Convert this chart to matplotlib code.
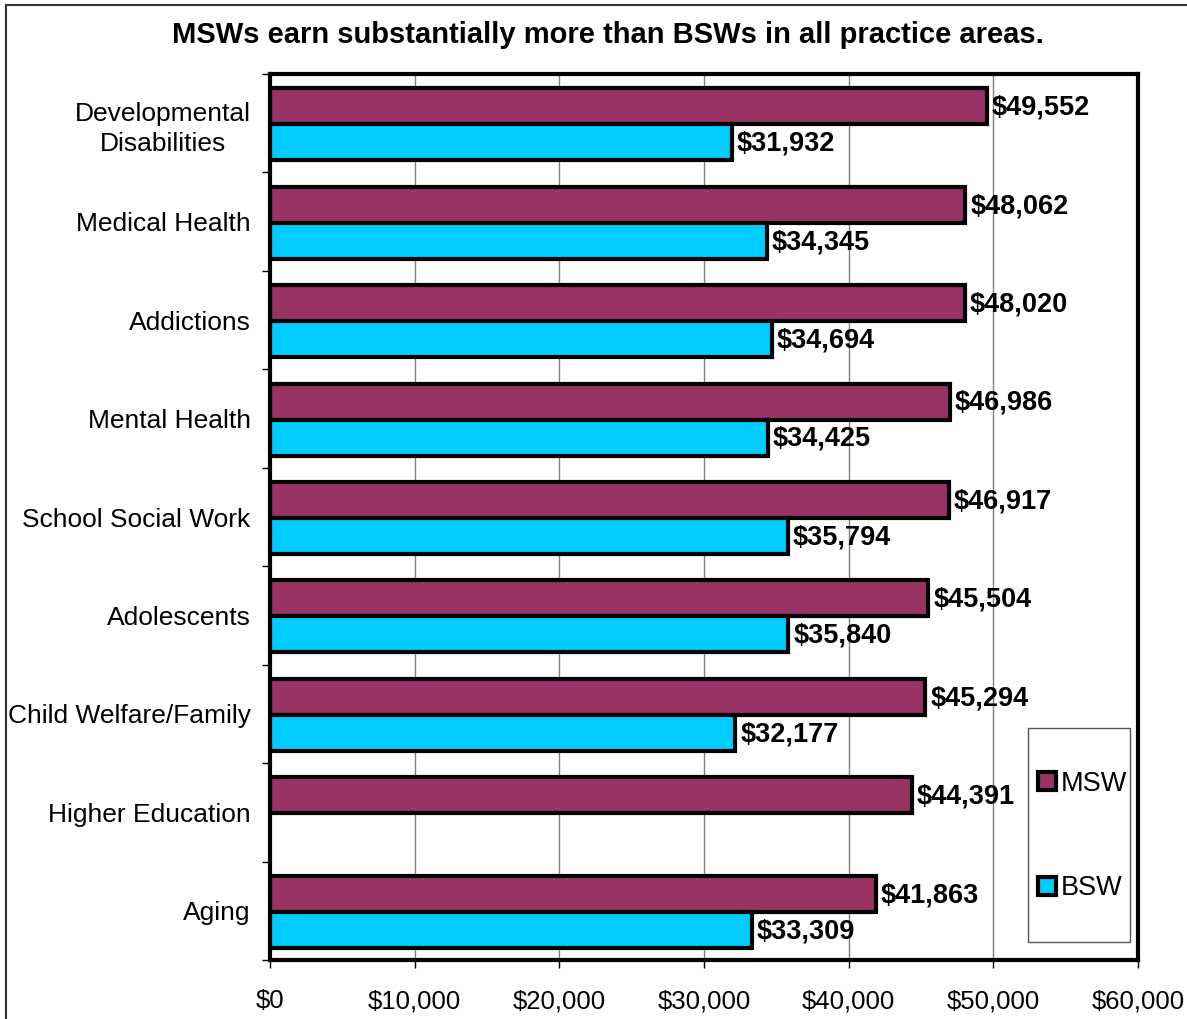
import numpy as np
import matplotlib
matplotlib.use("Agg")
import matplotlib.pyplot as plt
from matplotlib.lines import Line2D
from matplotlib.patches import Rectangle

plt.rcParams['font.family'] = ['Liberation Sans', 'DejaVu Sans']

categories = ["Developmental\nDisabilities", "Medical Health", "Addictions", "Mental Health",
              "School Social Work", "Adolescents", "Child Welfare/Family", "Higher Education", "Aging"]
msw = [49552, 48062, 48020, 46986, 46917, 45504, 45294, 44391, 41863]
bsw = [31932, 34345, 34694, 34425, 35794, 35840, 32177, np.nan, 33309]
xticks = [0, 10000, 20000, 30000, 40000, 50000, 60000]

MSW_COLOR = '#993366'
BSW_COLOR = '#00CCFF'

W, H = 1187, 1019
fig = plt.figure(figsize=(W / 100, H / 100), dpi=100)
ax = fig.add_axes([270 / W, 1 - 960 / H, (1138 - 270) / W, (960 - 74) / H])

y = np.arange(len(categories))
h = 0.366
bars_m = ax.barh(y - h / 2 + 0.01, msw, height=h, color=MSW_COLOR, edgecolor='black', linewidth=3, zorder=3)
bars_b = ax.barh(y + h / 2 + 0.01, bsw, height=h, color=BSW_COLOR, edgecolor='black', linewidth=3, zorder=3)

for bars, vals in [(bars_m, msw), (bars_b, bsw)]:
    for bar, v in zip(bars, vals):
        if np.isnan(v):
            continue
        ax.annotate(f"${v:,.0f}", (v, bar.get_y() + bar.get_height() / 2),
                    xytext=(3.5, -1), textcoords='offset points',
                    ha='left', va='center', fontsize=19.5, fontweight='bold', zorder=5)

ax.set_xlim(0, 60000)
ax.set_ylim(len(categories) - 0.5, -0.5)
ax.set_xticks(xticks)
ax.set_xticklabels([f"${t:,}" for t in xticks])
ax.set_yticks(y)
ax.set_yticklabels(categories)
for lab in ax.get_yticklabels():
    lab.set_multialignment('center')
    lab.set_linespacing(1.35)
ax.set_yticks(np.arange(-0.5, len(categories), 1), minor=True)

ax.tick_params(axis='y', which='major', length=0, pad=14, labelsize=19)
ax.tick_params(axis='y', which='minor', length=6, width=1, direction='out')
ax.tick_params(axis='x', which='major', length=6, width=1, direction='out', pad=15, labelsize=18.5)

ax.grid(axis='x', color='#808080', linewidth=1)
ax.set_axisbelow(True)
for s in ax.spines.values():
    s.set_linewidth(3)
    s.set_zorder(6)

# legend
fig.patches.append(Rectangle((1028 / W, 1 - 942 / H), (1130 - 1028) / W, (942 - 728) / H,
                             transform=fig.transFigure, facecolor='white',
                             edgecolor='#555555', linewidth=1, zorder=7))
handles = [Line2D([], [], marker='s', linestyle='none', markersize=13, markerfacecolor=MSW_COLOR,
                  markeredgecolor='black', markeredgewidth=3, label='MSW'),
           Line2D([], [], marker='s', linestyle='none', markersize=13, markerfacecolor=BSW_COLOR,
                  markeredgecolor='black', markeredgewidth=3, label='BSW')]
leg = fig.legend(handles=handles, loc='center', bbox_to_anchor=(1082 / W, 1 - 836 / H),
                 frameon=False, fontsize=19.5, handlelength=0.8, handletextpad=0.1,
                 labelspacing=2.9)
leg.set_zorder(8)

fig.text(608 / W, 1 - 35 / H, "MSWs earn substantially more than BSWs in all practice areas.",
         ha='center', va='center', fontsize=21, fontweight='bold')

# outer chart border
fig.add_artist(Line2D([6 / W, 6 / W], [0, 1 - 5 / H], color='#333333', linewidth=1.5))
fig.add_artist(Line2D([6 / W, 1], [1 - 5 / H, 1 - 5 / H], color='#333333', linewidth=1.5))

fig.savefig("out.png", dpi=100)
